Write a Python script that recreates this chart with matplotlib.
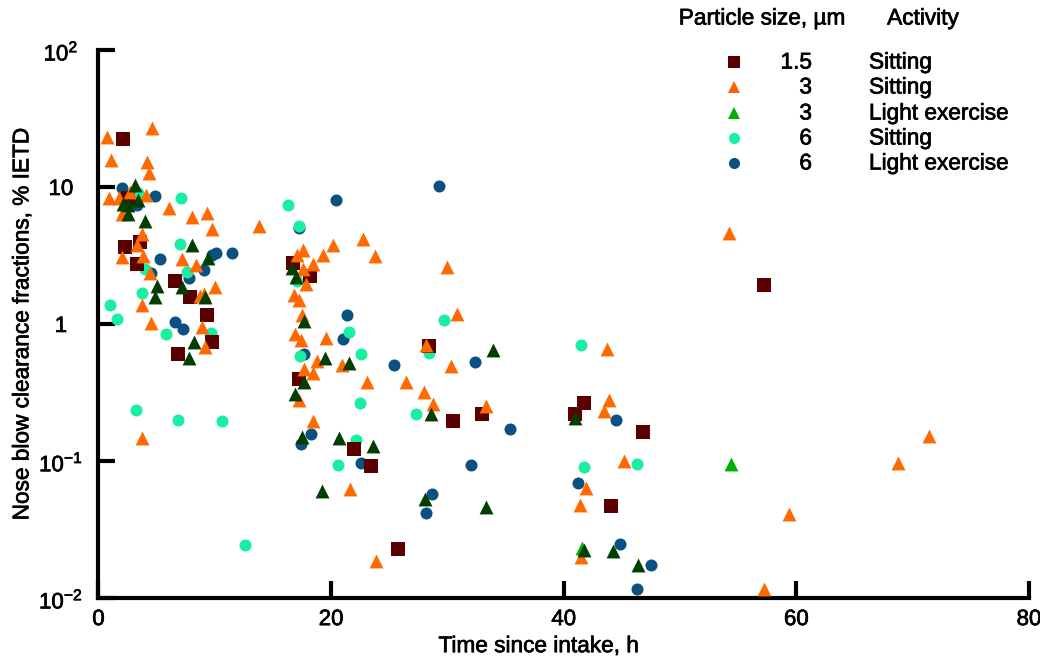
import matplotlib
matplotlib.use('Agg')
import matplotlib.pyplot as plt
import matplotlib.patheffects as pe
from matplotlib.lines import Line2D

plt.rcParams['font.family'] = ['Liberation Sans', 'DejaVu Sans']
plt.rcParams['mathtext.fontset'] = 'custom'
plt.rcParams['mathtext.rm'] = 'Liberation Sans'
plt.rcParams['mathtext.it'] = 'Liberation Sans'
plt.rcParams['mathtext.bf'] = 'Liberation Sans'

# 1.5 um, sitting
sq_x = [2.1, 2.3, 3.6, 3.3, 2.5, 6.6, 7.9, 9.3, 9.8, 6.8, 16.7, 18.2, 17.2, 28.4,
        22.0, 23.4, 30.5, 33.0, 25.75, 41.7, 41.0, 46.8, 44.1, 57.2]
sq_y = [22.4, 3.65, 3.97, 2.74, 8.3, 2.06, 1.57, 1.16, 0.74, 0.60, 2.79, 2.24, 0.40, 0.69,
        0.122, 0.092, 0.196, 0.22, 0.0228, 0.265, 0.22, 0.163, 0.047, 1.93]

# 3 um, sitting
or_x = [0.7, 1.1, 4.6, 4.2, 4.3, 0.9, 1.8, 2.7, 4.1, 6.1, 8.0, 9.3, 9.8, 13.8, 2.0,
        3.7, 3.3, 2.0, 3.8, 4.4, 7.2, 8.4, 10.0, 8.7, 9.1, 3.7, 4.5, 8.9, 9.2, 3.7,
        22.7, 23.8, 20.2, 19.3, 17.6, 17.1, 18.4, 17.6, 17.8, 16.8, 17.2, 17.5, 16.9,
        17.4, 19.6, 18.8, 18.4, 17.7, 20.9, 23.1, 17.2, 18.4, 21.6, 23.9,
        30.0, 30.8, 28.2, 30.3, 26.4, 28.0, 28.8, 33.3,
        43.9, 43.5, 45.2, 41.9, 41.4, 41.5, 43.7, 54.2, 57.2, 59.4, 68.7, 71.4]
or_y = [23.2, 15.7, 27.0, 15.2, 12.7, 8.3, 8.3, 9.2, 8.7, 7.0, 6.0, 6.5, 4.9, 5.2, 6.4,
        4.5, 3.8, 3.08, 3.14, 2.36, 2.98, 2.7, 1.86, 1.6, 1.66, 1.38, 1.02, 0.95, 0.68, 0.147,
        4.2, 3.14, 3.8, 3.19, 3.47, 3.19, 2.74, 2.52, 1.96, 1.63, 1.5, 1.16, 0.85,
        0.76, 0.79, 0.54, 0.44, 0.47, 0.50, 0.38, 0.28, 0.196, 0.0625, 0.0186,
        2.61, 1.18, 0.70, 0.49, 0.38, 0.32, 0.26, 0.25,
        0.28, 0.23, 0.100, 0.0635, 0.048, 0.0199, 0.66, 4.6, 0.0116, 0.041, 0.097, 0.152]

# 3 um, light exercise (plotted dark green)
dg_x = [3.1, 2.1, 2.5, 2.5, 3.4, 4.0, 8.0, 5.0, 4.9, 7.2, 9.4, 9.2, 8.2, 7.8,
        16.6, 17.0, 17.7, 19.5, 21.5, 17.7, 16.9, 17.5, 20.7, 23.6, 19.2,
        28.6, 33.9, 28.1, 33.3, 41.0, 41.7, 44.2, 46.4]
dg_y = [10.3, 7.5, 7.4, 6.35, 8.0, 5.65, 3.77, 1.89, 1.57, 1.86, 3.03, 1.57, 0.74, 0.56,
        2.56, 2.2, 1.05, 0.56, 0.52, 0.38, 0.31, 0.15, 0.147, 0.129, 0.060,
        0.22, 0.65, 0.053, 0.046, 0.206, 0.0224, 0.022, 0.0174]

# 3 um, light exercise (bright green)
lg_x = [41.6, 54.4]
lg_y = [0.023, 0.095]

# 6 um, sitting
cy_x = [1.0, 1.6, 3.4, 7.1, 7.0, 4.0, 3.7, 7.6, 5.8, 9.7, 16.3, 17.2, 17.1, 17.3,
        21.5, 22.6, 22.5, 22.1, 20.6, 27.3, 28.4, 29.7, 41.5, 41.7, 46.3,
        3.2, 6.8, 10.6, 12.6]
cy_y = [1.38, 1.09, 9.0, 8.3, 3.84, 2.52, 1.68, 2.4, 0.85, 0.86, 7.4, 5.2, 2.06, 0.58,
        0.87, 0.60, 0.265, 0.142, 0.094, 0.22, 0.61, 1.07, 0.70, 0.090, 0.095,
        0.235, 0.199, 0.196, 0.0244]

# 6 um, light exercise
bl_x = [2.0, 3.3, 4.9, 5.3, 9.1, 9.8, 10.1, 11.5, 7.8, 4.5, 6.6, 7.3, 29.3, 20.4,
        17.2, 21.4, 21.0, 17.7, 25.4, 18.3, 17.4, 32.4, 22.6, 32.0, 35.4, 28.7,
        28.2, 44.5, 41.2, 44.8, 47.5, 46.3]
bl_y = [9.8, 7.4, 8.6, 2.98, 2.48, 3.19, 3.3, 3.3, 2.17, 2.36, 1.03, 0.92, 10.2, 8.0,
        5.0, 1.16, 0.78, 0.60, 0.50, 0.157, 0.133, 0.53, 0.097, 0.094, 0.171, 0.057,
        0.042, 0.199, 0.069, 0.0248, 0.0174, 0.0116]

legend_sizes = ['1.5', '3', '3', '6', '6']
legend_acts = ['Sitting', 'Sitting', 'Light exercise', 'Sitting', 'Light exercise']
legend_markers = ['s', '^', '^', 'o', 'o']
legend_colors = ['#5a0000', '#ff6000', '#00b000', '#1aeea0', '#0a5080']

c_sq = '#5a0000'
c_or = '#ff6a00'
c_dg = '#003f00'
c_lg = '#00b000'
c_cy = '#1aeea0'
c_bl = '#0a5080'

# slightly heavier text, like the original rendering
heavy = [pe.withStroke(linewidth=0.5, foreground='black')]

fig = plt.figure(figsize=(10.4, 6.62), dpi=100)
ax = fig.add_axes([0.0947, 0.0967, 0.8947, 0.8278])

ax.scatter(bl_x, bl_y, marker='o', s=75, color=c_bl, linewidths=0, zorder=2)
ax.scatter(cy_x, cy_y, marker='o', s=75, color=c_cy, linewidths=0, zorder=3)
ax.scatter(sq_x, sq_y, marker='s', s=95, color=c_sq, linewidths=0, zorder=4)
ax.scatter(lg_x, lg_y, marker='^', s=100, color=c_lg, linewidths=0, zorder=5)
ax.scatter(or_x, or_y, marker='^', s=100, color=c_or, linewidths=0, zorder=5)
ax.scatter(dg_x, dg_y, marker='^', s=100, color=c_dg, linewidths=0, zorder=6)

ax.set_yscale('log')
ax.set_xlim(0, 80)
ax.set_ylim(0.01, 100)
ax.set_xticks([0, 20, 40, 60, 80])
ax.set_yticks([0.01, 0.1, 1, 10, 100])
ax.set_yticklabels([r'$10^{-2}$', r'$10^{-1}$', '1', '10', r'$10^{2}$'])
ax.yaxis.set_minor_locator(matplotlib.ticker.NullLocator())

for side in ['top', 'right']:
    ax.spines[side].set_visible(False)
for side in ['left', 'bottom']:
    ax.spines[side].set_linewidth(3)

ax.tick_params(axis='both', direction='in', length=12, width=3, labelsize=16)
ax.tick_params(axis='y', pad=27)
ax.tick_params(axis='x', pad=8)
for lbl in ax.get_yticklabels():
    lbl.set_horizontalalignment('center')
for lbl in ax.get_yticklabels() + ax.get_xticklabels():
    lbl.set_path_effects(heavy)

ax.set_xlabel('Time since intake, h', fontsize=16.3, path_effects=heavy)
ax.xaxis.set_label_coords(0.473, -0.066)
ax.set_ylabel('Nose blow clearance fractions, % IETD', fontsize=16.3, path_effects=heavy)
ax.yaxis.set_label_coords(-0.070, 0.5)

# legend as a small table
W, H = 1040.0, 662.0
fig.text(762 / W, 1 - 18 / H, 'Particle size, µm', ha='center', va='center',
         fontsize=16.3, path_effects=heavy)
fig.text(923 / W, 1 - 18 / H, 'Activity', ha='center', va='center',
         fontsize=16.3, path_effects=heavy)
row_y = [62, 87, 113, 138, 163]
for i in range(len(legend_sizes)):
    yy = 1 - row_y[i] / H
    fig.add_artist(Line2D([734 / W], [yy], transform=fig.transFigure,
                          marker=legend_markers[i], markersize=8, linestyle='none',
                          markerfacecolor=legend_colors[i], markeredgewidth=0))
    fig.text(812 / W, yy, legend_sizes[i], ha='right', va='center',
             fontsize=16.3, path_effects=heavy)
    fig.text(869 / W, yy, legend_acts[i], ha='left', va='center',
             fontsize=16.3, path_effects=heavy)

fig.savefig('out.png', dpi=100)
